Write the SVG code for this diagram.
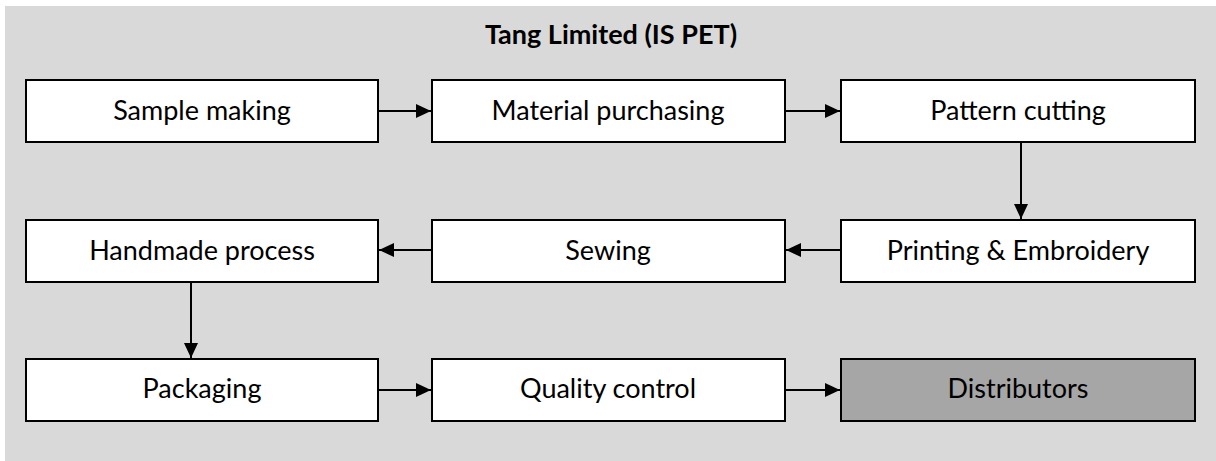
<svg xmlns="http://www.w3.org/2000/svg" width="1216" height="461" viewBox="0 0 1216 461">
  <style>
    .bg { fill: #d9d9d9; }
    .box rect { fill: #ffffff; stroke: #000000; stroke-width: 2; }
    .box.dark rect { fill: #a6a6a6; }
    .box text { font-family: Lato, "Open Sans", "Liberation Sans", sans-serif; font-size: 27px; fill: #000000; text-anchor: middle; }
    .title { font-family: Lato, "Open Sans", "Liberation Sans", sans-serif; font-size: 27px; font-weight: bold; fill: #000000; text-anchor: middle; }
    .conn line { stroke: #000000; stroke-width: 2; marker-end: url(#arrow); }
  </style>
  <defs>
    <marker id="arrow" viewBox="0 0 10 10" refX="10" refY="5" markerWidth="15" markerHeight="14" markerUnits="userSpaceOnUse" orient="auto" preserveAspectRatio="none">
      <path d="M0,0 L10,5 L0,10 Z" fill="#000000"/>
    </marker>
  </defs>

  <rect class="bg" x="5" y="6" width="1211" height="455"/>
  <text class="title" x="611" y="44">Tang Limited (IS PET)</text>

  <g id="sample-making" class="box">
    <rect x="26" y="80" width="352" height="62"/>
    <text x="202" y="120">Sample making</text>
  </g>
  <g id="material-purchasing" class="box">
    <rect x="432" y="80" width="353" height="62"/>
    <text x="608" y="120">Material purchasing</text>
  </g>
  <g id="pattern-cutting" class="box">
    <rect x="841" y="80" width="354" height="62"/>
    <text x="1018" y="120">Pattern cutting</text>
  </g>

  <g id="handmade-process" class="box">
    <rect x="26" y="220" width="352" height="62"/>
    <text x="202" y="260">Handmade process</text>
  </g>
  <g id="sewing" class="box">
    <rect x="432" y="220" width="353" height="62"/>
    <text x="608" y="260">Sewing</text>
  </g>
  <g id="printing-embroidery" class="box">
    <rect x="841" y="220" width="354" height="62"/>
    <text x="1018" y="260">Printing &amp; Embroidery</text>
  </g>

  <g id="packaging" class="box">
    <rect x="26" y="359" width="352" height="62"/>
    <text x="202" y="398">Packaging</text>
  </g>
  <g id="quality-control" class="box">
    <rect x="432" y="359" width="353" height="62"/>
    <text x="608" y="398">Quality control</text>
  </g>
  <g id="distributors" class="box dark">
    <rect x="841" y="359" width="354" height="62"/>
    <text x="1018" y="398">Distributors</text>
  </g>

  <g id="connectors" class="conn">
    <line x1="379" y1="111" x2="431" y2="111"/>
    <line x1="786" y1="111" x2="840" y2="111"/>
    <line x1="1021" y1="143" x2="1021" y2="219"/>
    <line x1="840" y1="250" x2="786" y2="250"/>
    <line x1="431" y1="250" x2="379" y2="250"/>
    <line x1="191" y1="283" x2="191" y2="358"/>
    <line x1="379" y1="390" x2="431" y2="390"/>
    <line x1="786" y1="390" x2="840" y2="390"/>
  </g>
</svg>
